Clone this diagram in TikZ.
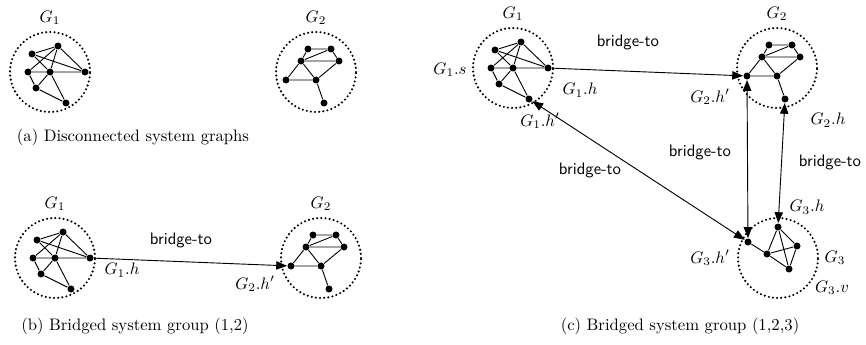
\documentclass[tikz,border=0pt]{standalone}
\usetikzlibrary{arrows.meta,positioning}
\begin{document}
\begin{tikzpicture}[x=0.6pt, y=-0.6pt, line width=0.55pt,
  vtx/.style = {circle, fill, inner sep=0pt, minimum size=4.2pt},
  ring/.style = {circle, draw, line width=1.4pt, line cap=round,
    dash pattern=on 0pt off 2.5pt, minimum size=48pt, inner sep=0pt},
  bridge/.style = {font=\sffamily},
  link/.style = {-{Triangle[length=6.5pt,width=5pt]}},
  dlink/.style = {{Triangle[length=6.5pt,width=5pt]}-{Triangle[length=6.5pt,width=5pt]}},
  graphone/.pic = {
    \node[ring] (-ring) at (0,0) {};
    \node[vtx] (-a) at (-18,-18) {};
    \node[vtx] (-b) at (8,-26) {};
    \node[vtx] (-c) at (-22,0) {};
    \node[vtx] (-d) at (0,0) {};
    \node[vtx] (-e) at (35,0) {};
    \node[vtx] (-f) at (-14,16) {};
    \node[vtx] (-g) at (16,31) {};
    \draw (-a) -- (-b) (-a) -- (-d) (-a) -- (-e) (-b) -- (-c) (-b) -- (-d)
      (-b) -- (-e) (-c) -- (-e) (-c) -- (-f) (-f) -- (-d) (-d) -- (-g)
      (-f) -- (-g);
  },
  graphtwo/.pic = {
    \node[ring] (-ring) at (0,0) {};
    \node[vtx] (-a) at (-8,-23) {};
    \node[vtx] (-b) at (15,-23) {};
    \node[vtx] (-c) at (-15,-11) {};
    \node[vtx] (-d) at (23,-11) {};
    \node[vtx] (-e) at (-30,8) {};
    \node[vtx] (-f) at (0,8) {};
    \node[vtx] (-g) at (8,31) {};
    \draw (-a) -- (-b) (-a) -- (-c) (-c) -- (-b) (-c) -- (-d) (-b) -- (-d)
      (-c) -- (-e) (-c) -- (-f) (-e) -- (-f) (-d) -- (-f) (-f) -- (-g);
  }]
  \useasboundingbox (0,0) rectangle (866,344);

  % (a) disconnected
  \pic (g1a) at (50,72) {graphone};
  \node[above=0pt of g1a-ring] (g1atitle) {$G_1$};
  \pic (g2a) at (316,72) {graphtwo};
  \node[above=0pt of g2a-ring] (g2atitle) {$G_2$};
  \node (capa) at (133,137) {(a) Disconnected system graphs};

  % (b) bridged (1,2)
  \pic (g1b) at (55,258) {graphone};
  \node[above=0pt of g1b-ring] (g1btitle) {$G_1$};
  \pic (g2b) at (321,258) {graphtwo};
  \node[above=0pt of g2b-ring] (g2btitle) {$G_2$};
  \draw[link] (g1b-e) -- (g2b-e);
  \node[bridge] (brb) at (181,240) {bridge-to};
  \node (g1bh) at (122,270) {$G_1.h$};
  \node (g2bh) at (255,284) {$G_2.h'$};
  \node (capb) at (135,326) {(b) Bridged system group (1,2)};

  % (c) bridged (1,2,3)
  \pic (g1c) at (513,68) {graphone};
  \node[above=0pt of g1c-ring] (g1ctitle) {$G_1$};
  \pic (g2c) at (777,68) {graphtwo};
  \node[above=0pt of g2c-ring] (g2ctitle) {$G_2$};
  \node[ring] (g3c) at (778,258) {};
  \node[vtx] (g3c-t) at (778,227) {};
  \node[vtx] (g3c-r) at (797,246) {};
  \node[vtx] (g3c-l) at (767,254) {};
  \node[vtx] (g3c-b) at (789,269) {};
  \node[vtx] (g3c-h) at (748,242) {};
  \draw (g3c-h) -- (g3c-l) (g3c-t) -- (g3c-l) (g3c-t) -- (g3c-r)
    (g3c-t) -- (g3c-b) (g3c-l) -- (g3c-r) (g3c-l) -- (g3c-b)
    (g3c-r) -- (g3c-b);

  \draw[link] (g1c-e) -- (g2c-e);
  \draw[dlink] (g1c-g) -- (g3c-h);
  \draw[dlink] (g2c-e) -- (g3c-h);
  \draw[dlink] (g2c-g) -- (g3c-t);

  \node[bridge] (brc1) at (628,42) {bridge-to};
  \node[bridge] (brc2) at (700,152) {bridge-to};
  \node[bridge] (brc3) at (590,170) {bridge-to};
  \node[bridge] (brc4) at (830,162) {bridge-to};
  \node (g1cs) at (450,70) {$G_1.s$};
  \node (g1ch) at (580,90) {$G_1.h$};
  \node (g1chp) at (540,121) {$G_1.h'$};
  \node (g2chp) at (710,97) {$G_2.h'$};
  \node (g2ch) at (828,120) {$G_2.h$};
  \node (g3ch) at (807,207) {$G_3.h$};
  \node (g3chp) at (710,258) {$G_3.h'$};
  \node (g3ctitle) at (835,258) {$G_3$};
  \node (g3cv) at (832,288) {$G_3.v$};
  \node (capc) at (680,326) {(c) Bridged system group (1,2,3)};
\end{tikzpicture}
\end{document}
